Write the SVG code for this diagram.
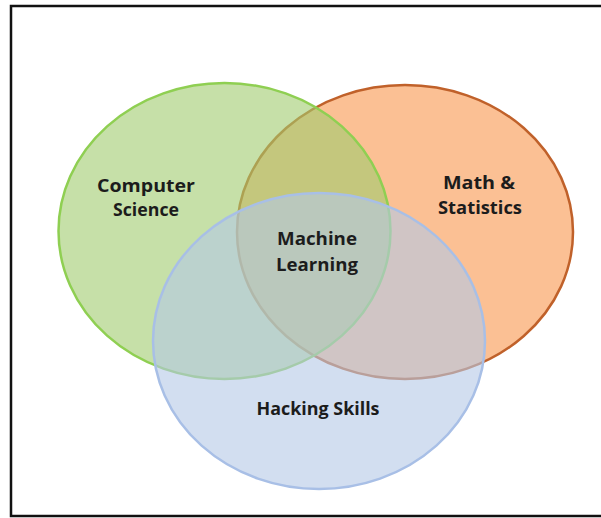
<svg xmlns="http://www.w3.org/2000/svg" width="601" height="518" viewBox="0 0 601 518">
<style>
.lbl{font-family:"Open Sans","Liberation Sans",sans-serif;font-weight:700;font-size:18px;fill:#1c1c1c;text-anchor:middle}
</style>
<rect width="601" height="518" fill="#ffffff"/>
<rect x="11" y="6" width="600" height="510" fill="none" stroke="#111111" stroke-width="2.5"/>
<g id="math">
<ellipse cx="405" cy="232" rx="168" ry="147" fill="#f8964d" fill-opacity="0.6" stroke="#c0612a" stroke-width="2.5"/>
</g>
<g id="cs">
<ellipse cx="224.5" cy="231" rx="166" ry="148" fill="#a0cb6e" fill-opacity="0.6" stroke="#8fcf52" stroke-width="2.5"/>
</g>
<g id="hacking">
<ellipse cx="319" cy="341" rx="166" ry="148" fill="#b4c8e6" fill-opacity="0.6" stroke="#a8bfe6" stroke-width="2.5"/>
</g>
<g id="labels">
<text class="lbl" x="146" y="192" textLength="98" lengthAdjust="spacingAndGlyphs">Computer</text>
<text class="lbl" x="146" y="216" textLength="66" lengthAdjust="spacingAndGlyphs">Science</text>
<text class="lbl" x="479" y="189" textLength="72" lengthAdjust="spacingAndGlyphs">Math &amp;</text>
<text class="lbl" x="480" y="214" textLength="84" lengthAdjust="spacingAndGlyphs">Statistics</text>
<text class="lbl" x="317" y="245" textLength="80" lengthAdjust="spacingAndGlyphs">Machine</text>
<text class="lbl" x="317" y="271" textLength="82" lengthAdjust="spacingAndGlyphs">Learning</text>
<text class="lbl" x="318" y="415" textLength="123" lengthAdjust="spacingAndGlyphs">Hacking Skills</text>
</g>
<g id="connectors"/>
</svg>
